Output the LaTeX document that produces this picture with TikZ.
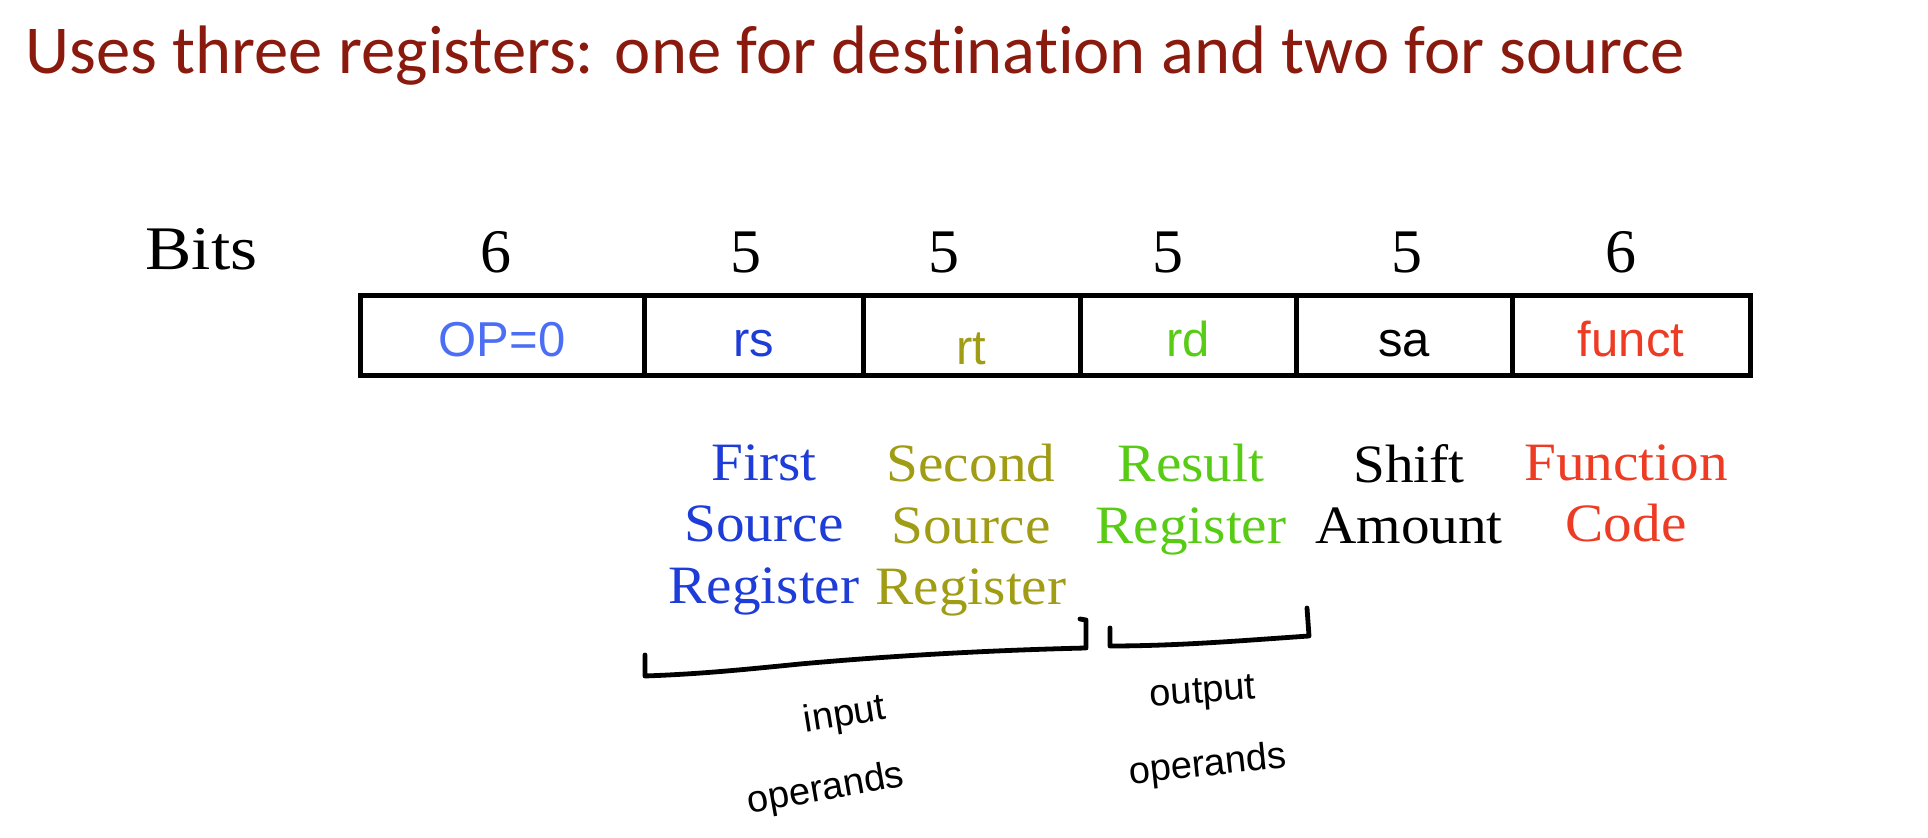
\documentclass[tikz,border=0pt]{standalone}
\usepackage{fontspec}
\setmainfont{Liberation Serif}
\newfontfamily\titlefont[Ligatures={NoCommon}]{Carlito}
\newfontfamily\fieldfont{Liberation Sans}
\newfontfamily\palfont[FakeStretch=1.06]{Liberation Serif}
\newfontfamily\bitsfont[FakeStretch=1.12]{Liberation Serif}
\definecolor{titlered}{RGB}{139,26,14}
\definecolor{opblue}{RGB}{76,110,245}
\definecolor{rsblue}{RGB}{30,60,215}
\definecolor{olive}{RGB}{160,156,20}
\definecolor{rdgreen}{RGB}{88,204,20}
\definecolor{fred}{RGB}{238,59,36}
\begin{document}
\begin{tikzpicture}[x=0.5pt,y=-0.5pt,
  cell/.style={draw=black,line width=2.5pt,inner sep=0pt,minimum height=40pt,
    font=\fieldfont\fontsize{24.5}{28}\selectfont,text height=24pt,text depth=3pt},
  bitnum/.style={anchor=base,inner sep=0pt,font=\fontsize{31}{36}\selectfont},
  lbl/.style={anchor=north,inner sep=0pt,align=center,font=\palfont\fontsize{27}{30.75}\selectfont},
  brace/.style={line width=2.4pt,line cap=round,line join=round},
  hand/.style={inner sep=0pt,font=\fieldfont\fontsize{19}{20}\selectfont}]
\useasboundingbox (0,0) rectangle (1928,838);
\fill[white] (0,0) rectangle (1928,838);
% title
\node[anchor=base west,inner sep=0pt,text=titlered,font=\titlefont\fontsize{34.3}{40}\selectfont] (title) at (25,74)
  {Uses three registers: one for destination and two for source};
% bits row
\node[anchor=base west,inner sep=0pt,font=\bitsfont\fontsize{31}{36}\selectfont] (bits) at (145,270) {Bits};
\node[bitnum] (n1) at (496,273) {6};
\node[bitnum] (n2) at (746,273) {5};
\node[bitnum] (n3) at (944,273) {5};
\node[bitnum] (n4) at (1168,273) {5};
\node[bitnum] (n5) at (1407,273) {5};
\node[bitnum] (n6) at (1621,273) {6};
% fields
\node[cell,minimum width=142pt,text=opblue] (op) at (502,336) {OP=0};
\node[cell,minimum width=109.5pt,text=rsblue] (rs) at (753.5,336) {rs};
\node[cell,minimum width=108.5pt,text=olive] (rt) at (971.5,336) {\raisebox{-4pt}{rt}};
\node[cell,minimum width=108pt,text=rdgreen] (rd) at (1188,336) {rd};
\node[cell,minimum width=108pt,text=black] (sa) at (1404,336) {sa};
\node[cell,minimum width=119pt,text=fred] (funct) at (1631,336) {funct};
% labels
\node[lbl,text=rsblue] (l1) at (764,444) {First\\Source\\Register};
\node[lbl,text=olive] (l2) at (971,444) {Second\\Source\\Register};
\node[lbl,text=rdgreen] (l3) at (1191,444) {Result\\Register};
\node[lbl,text=black] (l4) at (1409,444) {Shift\\Amount};
\node[lbl,text=fred] (l5) at (1626,444) {Function\\Code};
% braces
\coordinate (ia) at (645,655);
\coordinate (ib) at (1086,620);
\draw[brace] (ia) -- (645,676) .. controls (700,674) and (740,670) .. (800,664)
  .. controls (900,655) and (1000,650) .. (1086,648) -- (ib) -- (1080,619);
\coordinate (oa) at (1110,628);
\coordinate (ob) at (1307,608);
\draw[brace] (oa) -- (1110,646) .. controls (1180,646) and (1250,640) .. (1309,636) -- (ob);
% handwritten notes
\node[hand,rotate=9] (t1) at (845,716) {input};
\node[hand,rotate=10] (t2) at (826,790) {operands};
\node[hand,rotate=4] (t3) at (1203,694) {output};
\node[hand,rotate=6] (t4) at (1208,766) {operands};
\end{tikzpicture}
\end{document}
